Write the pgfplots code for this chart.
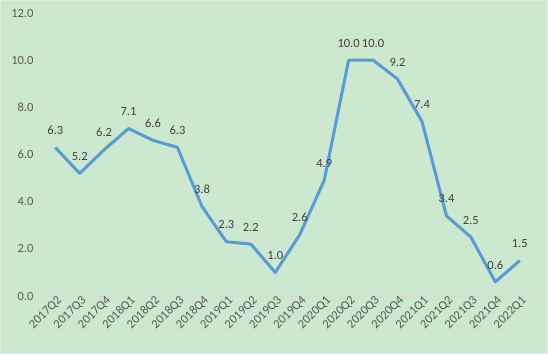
\documentclass[border=0pt]{standalone}
\usepackage{fontspec}
\setmainfont{Carlito}
\usepackage{pgfplots}
\pgfplotsset{compat=1.18}
\definecolor{bg}{RGB}{204,232,207}
\definecolor{ln}{RGB}{91,155,213}
\definecolor{tx}{RGB}{64,64,64}
\definecolor{tk}{RGB}{89,89,89}
\definecolor{bl}{RGB}{217,217,217}
\begin{document}
\begin{tikzpicture}[x=1pt,y=1pt]
\fill[bg] (0,0) rectangle (548,354);
\draw[bg!70!white, line width=1pt] (0.5,0.5) rectangle (547.5,353.5);
\begin{axis}[
  at={(43pt,58pt)}, anchor=south west,
  scale only axis, width=489pt, height=283pt,
  xmin=-0.5, xmax=19.5, ymin=0, ymax=12,
  axis x line=bottom, axis y line=left,
  x axis line style={draw=bl, line width=1pt, -},
  y axis line style={draw=none},
  major tick length=0pt,
  xtick={0,...,19},
  xticklabels={2017Q2,2017Q3,2017Q4,2018Q1,2018Q2,2018Q3,2018Q4,2019Q1,2019Q2,2019Q3,2019Q4,2020Q1,2020Q2,2020Q3,2020Q4,2021Q1,2021Q2,2021Q3,2021Q4,2022Q1},
  ytick={0,2,...,12},
  yticklabel style={/pgf/number format/fixed, /pgf/number format/fixed zerofill, /pgf/number format/precision=1, xshift=-6pt},
  /pgf/number format/assume math mode=true,
  ticklabel style={font=\fontsize{12.5}{14}\selectfont, text=tk},
  xticklabel style={rotate=45, anchor=east, yshift=-5pt, xshift=5pt},
  clip=false,
  nodes near coords,
  nodes near coords style={font=\fontsize{12.5}{14}\selectfont, text=tx, anchor=center, yshift=17pt, /pgf/number format/fixed, /pgf/number format/fixed zerofill, /pgf/number format/precision=1, /pgf/number format/assume math mode=true},
]
\addplot[ln, line width=3pt, line join=round, mark=none] coordinates {
(0,6.3) (1,5.2) (2,6.2) (3,7.1) (4,6.6) (5,6.3) (6,3.8) (7,2.3) (8,2.2) (9,1.0)
(10,2.6) (11,4.9) (12,10.0) (13,10.0) (14,9.2) (15,7.4) (16,3.4) (17,2.5) (18,0.6) (19,1.5)
};
\end{axis}
\end{tikzpicture}
\end{document}
